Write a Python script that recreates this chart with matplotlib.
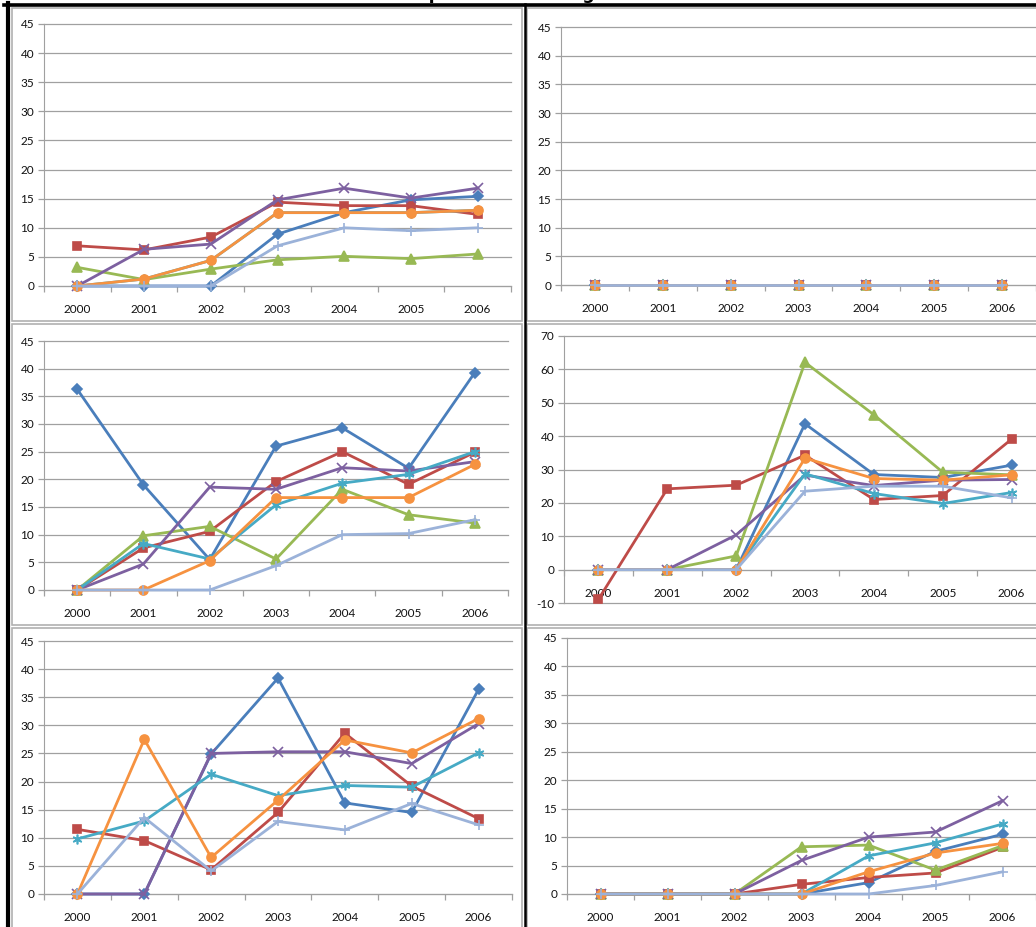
import numpy as np
import matplotlib.pyplot as plt
from matplotlib.lines import Line2D

plt.rcParams['font.family'] = ['Lato', 'DejaVu Sans']

W, H = 1036, 927

years = ['2000', '2001', '2002', '2003', '2004', '2005', '2006']

# series order: blue, red, green, purple, aqua, orange, light blue
top_left = [
    [0, 0, 0, 8.9, 12.6, 14.8, 15.4],
    [6.9, 6.2, 8.4, 14.4, 13.8, 13.8, 12.3],
    [3.2, 1.1, 2.9, 4.5, 5.1, 4.7, 5.5],
    [0, 6.3, 7.2, 14.8, 16.8, 15.1, 16.8],
    [0, 1.2, 4.4, 12.6, 12.6, 12.6, 13.0],
    [0, 1.2, 4.4, 12.6, 12.6, 12.6, 13.0],
    [0, 0, 0, 6.9, 10.0, 9.5, 10.0],
]
top_right = [[0, 0, 0, 0, 0, 0, 0] for _ in range(7)]
mid_left = [
    [36.3, 19.0, 5.5, 26.0, 29.3, 22.0, 39.3],
    [0, 7.6, 10.6, 19.6, 25.0, 19.1, 24.9],
    [0, 9.8, 11.5, 5.6, 18.2, 13.6, 12.1],
    [0, 4.7, 18.6, 18.2, 22.1, 21.5, 23.2],
    [0, 8.4, 5.6, 15.4, 19.3, 20.9, 25.0],
    [0, 0, 5.3, 16.7, 16.7, 16.7, 22.7],
    [0, 0, 0, 4.4, 10.0, 10.2, 12.7],
]
mid_right = [
    [0, 0, 0, 43.7, 28.5, 27.6, 31.3],
    [-8.9, 24.2, 25.3, 34.3, 21.0, 22.2, 39.1],
    [0, 0, 4.1, 62.1, 46.4, 29.2, 28.4],
    [0, 0, 10.4, 28.3, 25.2, 26.8, 27.0],
    [0, 0, 0, 28.7, 22.8, 19.8, 23.1],
    [0, 0, 0, 33.4, 27.3, 26.8, 28.4],
    [0, 0, 0, 23.5, 25.0, 25.0, 21.5],
]
bot_left = [
    [0, 0, 24.9, 38.4, 16.2, 14.5, 36.4],
    [11.5, 9.5, 4.3, 14.5, 28.6, 19.2, 13.4],
    [np.nan] * 7,
    [0, 0, 25.0, 25.3, 25.3, 23.2, 30.3],
    [9.8, 13.0, 21.3, 17.5, 19.3, 19.0, 25.1],
    [0, 27.5, 6.5, 16.7, 27.4, 25.1, 31.2],
    [0, 13.6, 4.1, 12.9, 11.4, 16.1, 12.3],
]
bot_right = [
    [0, 0, 0, 0, 2.0, 7.5, 10.5],
    [0, 0, 0, 1.7, 2.9, 3.7, 8.2],
    [0, 0, 0, 8.3, 8.6, 4.2, 8.5],
    [0, 0, 0, 5.9, 10.0, 10.9, 16.4],
    [0, 0, 0, 0, 6.7, 9.0, 12.3],
    [0, 0, 0, 0, 3.9, 7.2, 8.9],
    [0, 0, 0, 0, 0, 1.5, 3.9],
]

colors = ['#4A7EBB', '#BE4B48', '#98B954', '#7D60A0', '#46AAC5', '#F69240', '#9BB2D9']
markers = ['D', 's', '^', 'x', (6, 2, 0), 'o', '+']
msizes = [5, 6, 6.5, 6.5, 7, 6.5, 7]

grid_col = '#A0A0A0'
text_col = '#111111'

# panel layout in pixels: (left, top, right, bottom) of the plot area
panels = [
    (top_left, (44, 24, 511, 286), (0, 45, 5)),
    (top_right, (561, 27, 1036, 285), (0, 45, 5)),
    (mid_left, (44, 341, 508, 590), (0, 45, 5)),
    (mid_right, (564, 336, 1046, 603), (-10, 70, 10)),
    (bot_left, (44, 641, 512, 894), (0, 45, 5)),
    (bot_right, (567, 638, 1036, 894), (0, 45, 5)),
]

fig = plt.figure(figsize=(W / 100, H / 100), dpi=100)


def fx(px):
    return px / W


def fy(py):
    return 1 - py / H


# chart area borders
for x0, y0, x1, y1 in [(12, 8, 522, 321), (527, 8, 1040, 321),
                       (12, 324, 522, 625), (527, 324, 1040, 625),
                       (12, 628, 522, 930), (527, 628, 1040, 930)]:
    fig.add_artist(plt.Rectangle((fx(x0), fy(y1)), fx(x1 - x0), (y1 - y0) / H,
                                 transform=fig.transFigure, fill=False,
                                 edgecolor='#B0B0B0', lw=1.2))

for values, (l, t, r, b), (ymin, ymax, step) in panels:
    ax = fig.add_axes([fx(l), fy(b), fx(r - l), (b - t) / H])
    ax.set_xlim(-0.5, 6.5)
    ax.set_ylim(ymin, ymax)
    yt = np.arange(ymin, ymax + step / 2, step)

    # horizontal gridlines
    for v in yt:
        ax.axhline(v, color=grid_col, lw=0.9, zorder=1, clip_on=False)

    for k, s in enumerate(values):
        ax.plot(range(7), s, color=colors[k], lw=2.0, marker=markers[k],
                ms=msizes[k], mfc=colors[k], mec=colors[k], mew=1.2,
                zorder=3 + k, clip_on=False)

    for side in ['top', 'right']:
        ax.spines[side].set_visible(False)
    ax.spines['left'].set_color(grid_col)
    ax.spines['bottom'].set_color(grid_col)
    ax.spines['left'].set_zorder(2)
    ax.spines['bottom'].set_zorder(2)
    if ymin < 0:
        ax.spines['bottom'].set_position(('data', 0))

    ax.set_yticks(yt)
    ax.set_yticklabels([f'{v:g}' for v in yt])
    ax.tick_params(axis='y', length=4, width=0.9, color=grid_col,
                   labelsize=8.5, pad=3, labelcolor=text_col)

    ax.set_xticks(range(7))
    ax.set_xticklabels(years)
    ax.set_xticks(np.arange(-0.5, 7, 1), minor=True)
    ax.tick_params(axis='x', which='major', length=0, pad=13,
                   labelsize=8.5, labelcolor=text_col)
    ax.tick_params(axis='x', which='minor', length=4, width=0.9,
                   color=grid_col, direction='out')

# outer frame and column divider
fig.add_artist(Line2D([fx(4), fx(1040)], [fy(4.5), fy(4.5)], color='black',
                      lw=2.6, transform=fig.transFigure))
fig.add_artist(Line2D([fx(8), fx(8)], [fy(3), fy(930)], color='black',
                      lw=3.0, transform=fig.transFigure))
fig.add_artist(Line2D([fx(524.5), fx(524.5)], [fy(4), fy(930)], color='black',
                      lw=1.8, transform=fig.transFigure))

# chart title, sitting mostly above the top edge
fig.text(fx(404), fy(-1.5), 'Import Tariff Changes', fontsize=12.5,
         fontweight='bold', ha='left', va='baseline',
         family=['DejaVu Sans'])

fig.savefig('out.png', dpi=100)
